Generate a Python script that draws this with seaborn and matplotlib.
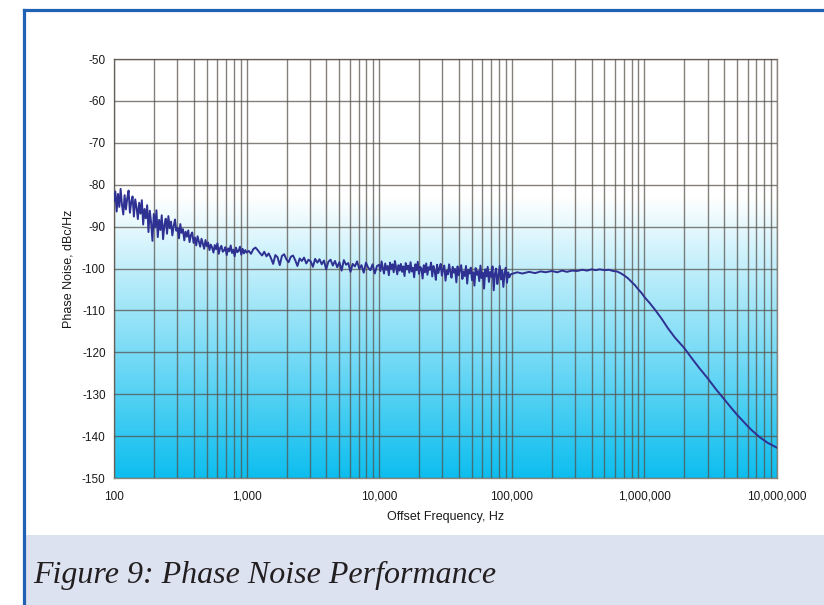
import numpy as np
import pandas as pd
import matplotlib
matplotlib.use("Agg")
import matplotlib.pyplot as plt
from matplotlib.ticker import LogLocator, FuncFormatter, NullFormatter
from matplotlib.patches import Rectangle
from matplotlib.lines import Line2D
import seaborn as sns

# ---------------- data ----------------
# 100 Hz .. 1 kHz sweep
seg1_db = [
    -84.0, -81.6, -86.4, -82.2, -85.3, -81.0, -84.8, -87.1, -82.5, -85.9,
    -83.2, -81.4, -86.7, -84.1, -82.8, -87.6, -83.5, -85.4, -88.2, -84.3,
    -86.9, -83.7, -89.5, -85.8, -88.0, -84.9, -91.3, -86.2, -89.1, -93.4,
    -87.0, -90.2, -86.1, -92.5, -88.4, -90.8, -87.3, -93.0, -89.6, -88.1,
    -91.7, -87.5, -90.4, -88.8, -92.1, -89.9, -88.3, -91.0, -90.3, -92.8,
    -89.4, -91.5, -90.6, -93.3, -91.2, -92.4, -90.9, -93.7, -92.0, -91.4,
    -93.9, -92.6, -94.5, -92.3, -93.5, -94.8, -92.9, -94.1, -95.3, -93.2,
    -94.7, -93.8, -95.6, -94.3, -95.0, -96.2, -94.4, -95.4, -94.0, -96.5,
    -95.1, -94.6, -96.0, -95.7, -94.9, -96.8, -95.2, -95.9, -94.5, -96.3,
    -95.5, -97.1, -95.0, -96.1, -95.8, -94.8, -96.7, -95.3, -96.4, -95.6,
]
# 1 kHz .. 10 kHz sweep
seg2_db = [
    -96.2, -95.8, -96.5, -95.4, -95.0, -95.6, -96.3, -96.9, -96.0, -97.1,
    -96.4, -97.5, -98.9, -96.8, -97.3, -99.2, -97.0, -96.6, -97.8, -98.5,
    -97.2, -96.9, -98.0, -99.4, -97.6, -98.2, -97.4, -98.8, -97.9, -98.3,
    -99.6, -97.7, -98.6, -97.8, -99.0, -98.1, -100.2, -98.4, -97.9, -99.3,
    -98.2, -99.7, -98.5, -100.5, -98.0, -99.1, -98.7, -100.8, -98.9, -99.5,
    -98.3, -100.1, -99.2, -101.0, -98.6, -99.8, -100.4, -99.0, -101.2, -99.4,
]
# 10 kHz .. 100 kHz sweep
seg3_db = [
    -99.1, -100.6, -98.3, -99.9, -101.2, -98.8, -100.3, -99.4, -101.6, -98.6,
    -100.1, -99.0, -100.9, -98.2, -99.7, -101.4, -99.2, -100.5, -98.9, -100.8,
    -99.5, -101.8, -98.7, -100.2, -99.3, -101.0, -98.5, -100.7, -99.8, -102.1,
    -99.0, -100.4, -98.4, -101.3, -99.6, -100.0, -102.4, -99.2, -100.9, -98.8,
    -101.5, -99.7, -100.3, -98.6, -101.9, -99.4, -100.6, -102.7, -99.1, -101.1,
    -99.9, -98.9, -101.7, -100.2, -99.3, -102.9, -100.5, -101.4, -99.0, -100.8,
    -102.2, -99.6, -101.0, -100.1, -103.3, -99.5, -101.6, -100.4, -99.2, -102.5,
    -100.7, -101.8, -99.4, -103.6, -100.3, -101.2, -99.8, -102.8, -100.9, -104.1,
    -99.9, -101.5, -100.6, -103.0, -99.3, -102.3, -101.0, -104.8, -100.2, -101.9,
    -99.6, -103.2, -100.8, -102.0, -99.5, -105.2, -101.3, -100.0, -103.7, -101.7,
    -99.4, -102.6, -100.5, -104.4, -101.1, -99.8, -103.4, -100.9, -102.1, -101.4,
]
# 100 kHz .. 10 MHz
seg4_hz = [100e3, 110e3, 120e3, 135e3, 150e3, 165e3, 180e3, 200e3, 220e3, 240e3,
           260e3, 285e3, 310e3, 340e3, 370e3, 400e3, 430e3, 460e3, 500e3, 540e3,
           580e3, 620e3, 660e3, 700e3, 750e3, 800e3, 850e3, 900e3, 950e3, 1.0e6,
           1.1e6, 1.2e6, 1.35e6, 1.5e6, 1.7e6, 2.0e6, 2.3e6, 2.6e6, 3.0e6, 3.5e6,
           4.0e6, 4.5e6, 5.0e6, 5.5e6, 6.0e6, 6.5e6, 7.0e6, 7.5e6, 8.0e6, 8.5e6,
           9.0e6, 9.5e6, 10e6]
seg4_db = [-101.3, -100.9, -101.2, -100.8, -101.1, -100.7, -100.9, -100.6, -100.9, -100.5,
           -100.8, -100.5, -100.6, -100.3, -100.5, -100.2, -100.4, -100.2, -100.4, -100.3,
           -100.6, -100.7, -101.1, -101.6, -102.3, -103.2, -104.0, -105.0, -105.8, -106.8,
           -108.3, -109.8, -112.0, -114.2, -116.5, -119.0, -121.6, -123.8, -126.2, -129.0,
           -131.2, -133.2, -134.9, -136.3, -137.6, -138.7, -139.6, -140.4, -141.0, -141.6,
           -142.0, -142.4, -142.8]

x_ticks = [100, 1000, 10000, 100000, 1000000, 10000000]
y_ticks = [-50, -60, -70, -80, -90, -100, -110, -120, -130, -140, -150]

# sweep grids of the analyser
seg1_hz = np.geomspace(100, 1000, len(seg1_db), endpoint=False)
seg2_hz = np.geomspace(1000, 10000, len(seg2_db), endpoint=False)
seg3_hz = np.geomspace(10000, 100000, len(seg3_db), endpoint=False)

df = pd.DataFrame({
    "freq": np.concatenate([seg1_hz, seg2_hz, seg3_hz, np.array(seg4_hz)]),
    "pn": np.concatenate([seg1_db, seg2_db, seg3_db, seg4_db]),
})

# ---------------- figure ----------------
sns.set_theme(style="white")
plt.rcParams["font.family"] = ["Liberation Sans", "DejaVu Sans"]
plt.rcParams["axes.unicode_minus"] = False

W, H = 824, 605
fig = plt.figure(figsize=(W / 100, H / 100), dpi=100)
fig.patch.set_facecolor("white")

# caption band and frame
fig.patches.append(Rectangle((25 / W, 0), 1, (H - 535) / H, transform=fig.transFigure,
                             facecolor="#dde2f1", edgecolor="none", zorder=0))
frame_c = "#1f62b3"
fig.lines.append(Line2D([23.5 / W, 23.5 / W], [0, 1 - 9.5 / H], transform=fig.transFigure,
                        color=frame_c, lw=2.3, solid_capstyle="projecting"))
fig.lines.append(Line2D([23.5 / W, 1.0], [1 - 9.5 / H, 1 - 9.5 / H], transform=fig.transFigure,
                        color=frame_c, lw=2.3, solid_capstyle="projecting"))

fig.text(33 / W, (H - 583) / H, "Figure 9: Phase Noise Performance",
         family=["Liberation Serif", "DejaVu Serif"], style="italic",
         fontsize=23, color="#231f20", ha="left", va="baseline")

ax = fig.add_axes([114 / W, 1 - 478 / H, (777 - 114) / W, (478 - 59) / H])

# vertical gradient background
ys = np.linspace(-150, -50, 500)
t = np.clip((-83 - ys) / 67.0, 0, 1)[:, None]
white = np.array([1.0, 1.0, 1.0])
cyan = np.array([0.05, 0.745, 0.935])
grad = white * (1 - t) + cyan * t
ax.imshow(grad[:, None, :], extent=[0, 1, 0, 1], transform=ax.transAxes,
          aspect="auto", origin="lower", zorder=0, interpolation="bilinear")

sns.lineplot(data=df, x="freq", y="pn", ax=ax, color="#2e3192", lw=1.4,
             sort=False, estimator=None, zorder=3)

ax.set_xscale("log")
ax.set_xlim(100, 1e7)
ax.set_ylim(-150, -50)
ax.set_xticks(x_ticks)
ax.xaxis.set_minor_locator(LogLocator(base=10, subs=np.arange(2, 10)))
ax.xaxis.set_minor_formatter(NullFormatter())
ax.xaxis.set_major_formatter(FuncFormatter(lambda v, p: f"{int(round(v)):,}"))
ax.set_yticks(y_ticks)

grid_c = "#55504a"
ax.grid(True, which="both", axis="x", color=grid_c, alpha=0.72, lw=1.0, zorder=1)
ax.grid(True, which="major", axis="y", color=grid_c, alpha=0.72, lw=1.0, zorder=1)
ax.set_axisbelow(False)
for sp in ax.spines.values():
    sp.set_color("#8b877f")
    sp.set_linewidth(1.0)
    sp.set_visible(True)

ax.tick_params(axis="both", which="major", direction="out", length=3,
               width=0.8, color="#8b877f", labelsize=8.5, labelcolor="#1a1a1a")
ax.tick_params(axis="x", which="major", pad=6)
ax.tick_params(axis="y", which="major", pad=3)
ax.tick_params(axis="x", which="minor", length=0)

ax.set_xlabel("Offset Frequency, Hz", fontsize=9, color="#1a1a1a", labelpad=6)
ax.set_ylabel("Phase Noise, dBc/Hz", fontsize=9, color="#1a1a1a", labelpad=5)

fig.savefig("out.png", dpi=100)
